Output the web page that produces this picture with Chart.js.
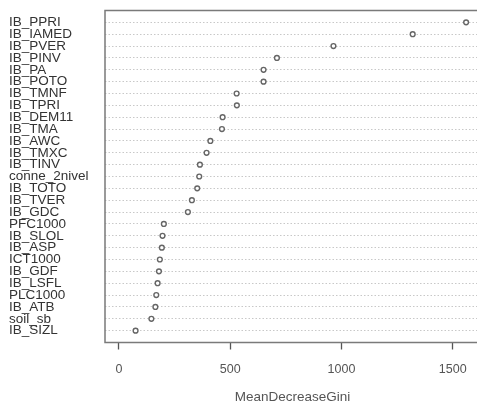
<!DOCTYPE html>
<html>
<head>
<meta charset="utf-8">
<script src="https://cdn.jsdelivr.net/npm/chart.js@4"></script>
<style>
  html, body { margin: 0; padding: 0; background: #fff; overflow: hidden; }
  #wrap { position: absolute; left: 0; top: 0; width: 477px; height: 405px; overflow: hidden; }
</style>
</head>
<body>
<div id="wrap"><canvas id="chart" width="490" height="405"></canvas></div>
<script>
// variable names, top to bottom
const varNames = [
    "IB_PPRI", "IB_IAMED", "IB_PVER", "IB_PINV", "IB_PA", "IB_POTO", "IB_TMNF",
    "IB_TPRI", "IB_DEM11", "IB_TMA", "IB_AWC", "IB_TMXC", "IB_TINV", "conne_2nivel",
    "IB_TOTO", "IB_TVER", "IB_GDC", "PFC1000", "IB_SLOL", "IB_ASP", "ICT1000",
    "IB_GDF", "IB_LSFL", "PLC1000", "IB_ATB", "soil_sb", "IB_SIZL"
];
// MeanDecreaseGini, same order
const giniValues = [
    1560, 1320, 964, 710, 650, 650, 529,
    530, 466, 463, 411, 394, 364, 361,
    352, 328, 310, 202, 196, 193, 184,
    180, 174, 168, 164, 146, 75
];
const xTickValues = [0, 500, 1000, 1500];

// border box round the plot area
const boxPlugin = {
    id: "box",
    afterDraw(chart) {
        const { ctx, chartArea } = chart;
        ctx.save();
        ctx.strokeStyle = "#7a7a7a";
        ctx.lineWidth = 1.5;
        ctx.strokeRect(chartArea.left, chartArea.top, chartArea.right - chartArea.left, chartArea.bottom - chartArea.top);
        ctx.restore();
    }
};

const ctx = document.getElementById("chart").getContext("2d");
new Chart(ctx, {
    type: "scatter",
    data: {
        datasets: [{
            label: "MeanDecreaseGini",
            data: giniValues.map((v, i) => ({ x: v, y: i + 1 })),
            pointStyle: "circle",
            pointRadius: 2.4,
            pointBorderWidth: 1.4,
            pointBorderColor: "#666",
            pointBackgroundColor: "#ffffff"
        }]
    },
    options: {
        responsive: false,
        animation: false,
        layout: { padding: { left: 9, right: 10, top: 10.5, bottom: 0 } },
        plugins: {
            legend: { display: false },
            tooltip: { enabled: false }
        },
        scales: {
            x: {
                type: "linear",
                min: -62.4,
                max: 1622.4,
                afterBuildTicks: (scale) => {
                    scale.ticks = xTickValues.map(v => ({ value: v }));
                },
                afterFit: (scale) => { scale.height = 62.5; },
                grid: {
                    drawOnChartArea: false,
                    drawTicks: true,
                    tickLength: 7,
                    tickColor: "#555",
                    tickWidth: 1.3
                },
                border: { display: false },
                ticks: {
                    color: "#555",
                    padding: 13,
                    maxRotation: 0,
                    font: { family: "Liberation Sans, Arial, sans-serif", size: 12.5 },
                    callback: (v) => String(v)
                },
                title: {
                    display: true,
                    text: "MeanDecreaseGini",
                    color: "#555",
                    padding: 0,
                    font: { family: "Liberation Sans, Arial, sans-serif", size: 13.5 }
                }
            },
            y: {
                type: "linear",
                reverse: true,
                min: 0,
                max: varNames.length + 1,
                afterFit: (scale) => { scale.width = 96; },
                grid: {
                    drawTicks: false,
                    color: (c) => (c.tick && c.tick.value >= 1 && c.tick.value <= varNames.length) ? "#c8c8c8" : "rgba(0,0,0,0)",
                    lineWidth: 1
                },
                border: { display: false, dash: [1.5, 2] },
                ticks: {
                    stepSize: 1,
                    autoSkip: false,
                    crossAlign: "far",
                    padding: 0,
                    color: "#333",
                    font: { family: "Liberation Sans, Arial, sans-serif", size: 13.5 },
                    callback: (v) => varNames[v - 1] ?? ""
                }
            }
        }
    },
    plugins: [boxPlugin]
});
</script>
</body>
</html>
